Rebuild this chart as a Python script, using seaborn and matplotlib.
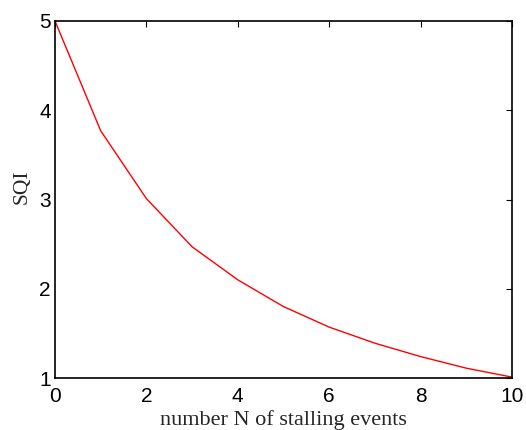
import matplotlib
matplotlib.use("Agg")
import matplotlib.pyplot as plt
import seaborn as sns
import pandas as pd

stalling_events = [0, 1, 2, 3, 4, 5, 6, 7, 8, 9, 10]
sqi_values = [5.0, 3.77, 3.01, 2.47, 2.10, 1.80, 1.57, 1.39, 1.24, 1.11, 1.01]

sns.set_style("white")
plt.rcParams['font.family'] = ['Liberation Sans', 'DejaVu Sans']

df = pd.DataFrame({"N": stalling_events, "SQI": sqi_values})

fig = plt.figure(figsize=(5.26, 4.30), dpi=100)
ax = fig.add_axes([55/526, 1 - 378/430, (512-55)/526, (378-21)/430])
sns.lineplot(data=df, x="N", y="SQI", color="red", linewidth=1.0, ax=ax)

ax.set_xlim(0, 10)
ax.set_ylim(1, 5)
ax.set_xticks([0, 2, 4, 6, 8, 10])
ax.set_yticks([1, 2, 3, 4, 5])
ax.tick_params(direction="in", length=4, width=0.8, top=True, right=True,
               labelsize=15, colors="black")
ax.tick_params(axis="x", pad=6.5)
ax.tick_params(axis="y", pad=3)
for s in ax.spines.values():
    s.set_color("black")
    s.set_linewidth(1.2)
ax.set_xlabel("number N of stalling events", family="Liberation Serif", fontsize=16, labelpad=3)
ax.set_ylabel("SQI", family="Liberation Serif", fontsize=15.5)
ax.yaxis.set_label_coords(-0.051, 0.535)

fig.savefig("out.png", dpi=100)
